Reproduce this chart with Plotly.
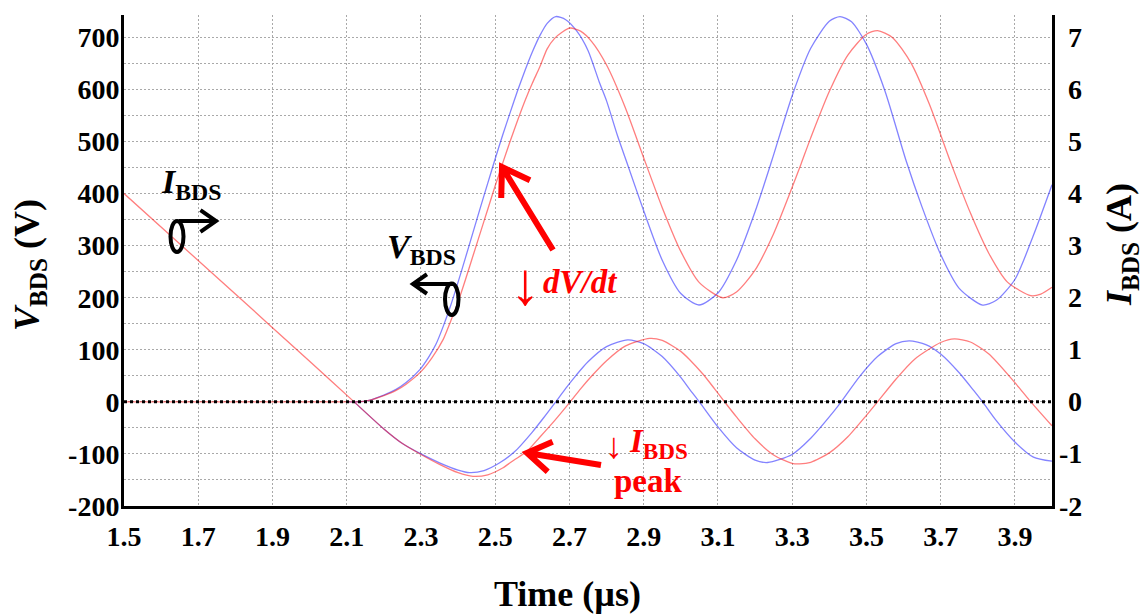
import math
import plotly.graph_objects as go

# ---------------- data ----------------
# V_BDS, blue (left axis, V)
t_vb = [2.10, 2.13, 2.16, 2.20, 2.233, 2.26, 2.297, 2.32, 2.34, 2.36, 2.38, 2.40, 2.42, 2.44,
        2.46, 2.48, 2.50, 2.52, 2.54, 2.56, 2.58, 2.60, 2.62, 2.64, 2.663, 2.69, 2.72, 2.75,
        2.78, 2.80, 2.83, 2.857, 2.90, 2.95, 3.00, 3.049, 3.10, 3.15, 3.20, 3.245, 3.30, 3.35,
        3.40, 3.429, 3.46, 3.50, 3.55, 3.607, 3.65, 3.70, 3.75, 3.813, 3.85, 3.90, 3.95, 4.00]
v_b = [0, 0, 3, 13, 24, 37, 62, 85, 110, 145, 185, 230, 277, 325,
       373, 420, 467, 512, 555, 597, 636, 672, 703, 727, 740, 734, 712, 675,
       615, 578, 510, 455, 367, 272, 208, 186, 209, 272, 365, 463, 588, 679,
       731, 740, 730, 687, 597, 463, 374, 283, 218, 186, 195, 235, 320, 417]

# V_BDS, red (left axis, V)
t_vr = [1.50, 2.10, 2.13, 2.16, 2.20, 2.233, 2.26, 2.30, 2.33, 2.36, 2.38, 2.40, 2.42, 2.44,
        2.46, 2.48, 2.50, 2.52, 2.54, 2.56, 2.58, 2.60, 2.62, 2.64, 2.66, 2.68, 2.702, 2.73,
        2.76, 2.80, 2.85, 2.905, 2.95, 3.00, 3.05, 3.113, 3.15, 3.20, 3.25, 3.30, 3.324, 3.35,
        3.40, 3.45, 3.50, 3.53, 3.57, 3.62, 3.67, 3.728, 3.78, 3.83, 3.88, 3.943, 3.97, 4.00]
v_r = [0, 0, 0, 3, 12, 22, 34, 58, 85, 120, 155, 192, 235, 280,
       325, 370, 415, 458, 500, 540, 578, 612, 643, 678, 698, 710, 718, 712,
       692, 647, 566, 459, 373, 289, 229, 200, 211, 253, 323, 412, 457, 507,
       596, 666, 706, 713, 700, 651, 571, 458, 363, 285, 230, 204, 207, 220]

# I_BDS, blue (right axis, A)
t_ib = [2.12, 2.20, 2.25, 2.30, 2.35, 2.40, 2.431, 2.47, 2.51, 2.552, 2.60, 2.63, 2.663, 2.69,
        2.718, 2.75, 2.80, 2.857, 2.90, 2.95, 3.00, 3.024, 3.05, 3.10, 3.15, 3.20, 3.234, 3.30,
        3.35, 3.40, 3.432, 3.481, 3.53, 3.58, 3.616, 3.66, 3.70, 3.75, 3.79, 3.813, 3.85, 3.90,
        3.95, 4.00]
i_b = [0.0, -0.52, -0.80, -1.00, -1.17, -1.31, -1.36, -1.32, -1.18, -0.96, -0.58, -0.31, 0.0, 0.26,
       0.51, 0.77, 1.06, 1.19, 1.12, 0.87, 0.47, 0.24, 0.0, -0.48, -0.88, -1.12, -1.165, -1.01,
       -0.70, -0.29, 0.0, 0.48, 0.87, 1.12, 1.17, 1.10, 0.92, 0.56, 0.21, 0.0, -0.36, -0.77,
       -1.06, -1.14]

# I_BDS, red (right axis, A)
t_ir = [1.50, 1.80, 2.00, 2.12, 2.20, 2.25, 2.30, 2.35, 2.40, 2.44, 2.48, 2.52, 2.55, 2.584,
        2.62, 2.66, 2.702, 2.73, 2.763, 2.80, 2.85, 2.916, 2.95, 3.00, 3.024, 3.06, 3.09, 3.118,
        3.15, 3.20, 3.25, 3.30, 3.32, 3.35, 3.40, 3.45, 3.50, 3.53, 3.58, 3.63, 3.70, 3.737,
        3.78, 3.83, 3.90, 3.943, 4.00]
i_r = [4.00, 2.07, 0.78, 0.0, -0.52, -0.80, -1.01, -1.20, -1.36, -1.43, -1.40, -1.27, -1.12, -0.96,
       -0.68, -0.36, 0.0, 0.25, 0.52, 0.79, 1.07, 1.22, 1.18, 0.97, 0.81, 0.53, 0.26, 0.0,
       -0.29, -0.71, -1.02, -1.18, -1.19, -1.16, -0.98, -0.67, -0.26, 0.0, 0.44, 0.82, 1.14, 1.21,
       1.15, 0.92, 0.37, 0.0, -0.46]

x_ticks = [1.5, 1.7, 1.9, 2.1, 2.3, 2.5, 2.7, 2.9, 3.1, 3.3, 3.5, 3.7, 3.9]
x_ticktext = ["1.5", "1.7", "1.9", "2.1", "2.3", "2.5", "2.7", "2.9", "3.1", "3.3", "3.5", "3.7", "3.9"]
yl_ticks = [-200, -100, 0, 100, 200, 300, 400, 500, 600, 700]
yl_ticktext = ["-200", "-100", "0", "100", "200", "300", "400", "500", "600", "700"]
yr_ticks = [-2, -1, 0, 1, 2, 3, 4, 5, 6, 7]
yr_ticktext = ["-2", "-1", "0", "1", "2", "3", "4", "5", "6", "7"]

# ---------------- layout helpers ----------------
W, H = 1144, 615
L, R, T, B = 124, 92, 15, 109
PW, PH = W - L - R, H - T - B
FONT = "Liberation Serif"
BLUE = "rgba(30,30,255,0.55)"
RED = "rgba(255,20,20,0.55)"
GRID = "#a9a9a9"


def px(x):
    return (x - L) / PW


def py(y):
    return (H - B - y) / PH


fig = go.Figure()
line_kw = dict(width=1.3, shape="spline", smoothing=0.7)
fig.add_trace(go.Scatter(x=t_vb, y=v_b, mode="lines", yaxis="y", line=dict(color=BLUE, **line_kw), hoverinfo="skip"))
fig.add_trace(go.Scatter(x=t_ib, y=i_b, mode="lines", yaxis="y2", line=dict(color=BLUE, **line_kw), hoverinfo="skip"))
fig.add_trace(go.Scatter(x=t_vr, y=v_r, mode="lines", yaxis="y", line=dict(color=RED, **line_kw), hoverinfo="skip"))
fig.add_trace(go.Scatter(x=t_ir, y=i_r, mode="lines", yaxis="y2", line=dict(color=RED, **line_kw), hoverinfo="skip"))

tickfont = dict(family=FONT, size=28, color="black", weight="bold")

fig.update_layout(
    width=W, height=H,
    margin=dict(l=L, r=R, t=T, b=B, pad=0),
    paper_bgcolor="white", plot_bgcolor="white",
    showlegend=False,
    xaxis=dict(range=[1.5, 4.0], tickvals=x_ticks, ticktext=x_ticktext, tickfont=tickfont,
               showgrid=True, gridcolor=GRID, gridwidth=1, griddash="2px,2px",
               zeroline=False, showline=True, linecolor="black", linewidth=3, ticks="",
               ticklabelstandoff=3),
    yaxis=dict(range=[-200, 743], tickvals=yl_ticks, ticktext=yl_ticktext, tickfont=tickfont,
               showgrid=True, gridcolor=GRID, gridwidth=1, griddash="2px,2px",
               minor=dict(dtick=50, tick0=0, showgrid=True, gridcolor=GRID, gridwidth=1, griddash="2px,2px"),
               zeroline=False, showline=True, linecolor="black", linewidth=3, ticks="",
               ticklabelstandoff=-4),
    yaxis2=dict(range=[-2, 7.43], overlaying="y", side="right", showgrid=False, zeroline=False,
                showline=True, linecolor="black", linewidth=3, ticks="", showticklabels=False),
)

ann = []
# right axis tick labels (right-aligned as in the reference)
for v, s in zip(yr_ticks, yr_ticktext):
    ann.append(dict(text=s, x=px(1084), xref="paper", y=v, yref="y2", xanchor="right",
                    yanchor="middle", showarrow=False, font=tickfont))

title_font = dict(family=FONT, size=36, color="black")
ann.append(dict(text="<b>Time (µs)</b>", x=px(567), y=py(594), xref="paper", yref="paper",
                showarrow=False, font=title_font, xanchor="center", yanchor="middle"))
ann.append(dict(text="<b><i>V</i><sub>BDS</sub> (V)</b>", x=px(29), y=py(265), xref="paper", yref="paper",
                showarrow=False, font=title_font, textangle=-90, xanchor="center", yanchor="middle"))
ann.append(dict(text="<b><i>I</i><sub>BDS</sub> (A)</b>", x=px(1121), y=py(245), xref="paper", yref="paper",
                showarrow=False, font=title_font, textangle=-90, xanchor="center", yanchor="middle"))

lab_font = dict(family=FONT, size=34, color="black")
ann.append(dict(text="<b><i>I</i><sub>BDS</sub></b>", x=px(159), y=py(184), xref="paper", yref="paper",
                showarrow=False, font=lab_font, xanchor="left", yanchor="middle"))
ann.append(dict(text="<b><i>V</i><sub>BDS</sub></b>", x=px(385), y=py(249), xref="paper", yref="paper",
                showarrow=False, font=lab_font, xanchor="left", yanchor="middle"))

red_font = dict(family=FONT, size=33, color="red")
ann.append(dict(text="↓", x=px(525), y=py(284), xref="paper", yref="paper",
                showarrow=False, font=dict(family=FONT, size=60, color="red"),
                xanchor="center", yanchor="middle"))
ann.append(dict(text="<b><i>dV/dt</i></b>", x=px(541), y=py(282), xref="paper", yref="paper",
                showarrow=False, font=red_font, xanchor="left", yanchor="middle"))
ann.append(dict(text="↓", x=px(614), y=py(446), xref="paper", yref="paper",
                showarrow=False, font=dict(family=FONT, size=36, color="red"),
                xanchor="center", yanchor="middle"))
ann.append(dict(text="<b><i>I</i><sub>BDS</sub></b>", x=px(627), y=py(443), xref="paper", yref="paper",
                showarrow=False, font=red_font, xanchor="left", yanchor="middle"))
ann.append(dict(text="<b>peak</b>", x=px(648), y=py(481), xref="paper", yref="paper",
                showarrow=False, font=red_font, xanchor="center", yanchor="middle"))
fig.update_layout(annotations=ann)


def arrow_path(tail, tip, arm_len, ang_deg):
    dx, dy = tail[0] - tip[0], tail[1] - tip[1]
    n = math.hypot(dx, dy)
    ux, uy = dx / n, dy / n
    a = math.radians(ang_deg)
    arms = []
    for s in (1, -1):
        rx = ux * math.cos(s * a) - uy * math.sin(s * a)
        ry = ux * math.sin(s * a) + uy * math.cos(s * a)
        arms.append((tip[0] + arm_len * rx, tip[1] + arm_len * ry))

    def P(p):
        return f"{px(p[0]):.5f},{py(p[1]):.5f}"
    return f"M{P(tail)} L{P(tip)} M{P(arms[0])} L{P(tip)} L{P(arms[1])}"


shapes = []
# dotted zero line
shapes.append(dict(type="line", xref="paper", yref="y", x0=0, x1=1, y0=0, y1=0,
                   line=dict(color="black", width=3, dash="dot"), layer="above"))
# loop marker for I_BDS (points to right axis)
shapes.append(dict(type="circle", xref="paper", yref="paper", x0=px(170.5), x1=px(183.5),
                   y0=py(252), y1=py(221), line=dict(color="black", width=4)))
shapes.append(dict(type="path", xref="paper", yref="paper",
                   path=arrow_path((179, 221), (216, 221), 19, 35), line=dict(color="black", width=4)))
# loop marker for V_BDS (points to left axis)
shapes.append(dict(type="circle", xref="paper", yref="paper", x0=px(445), x1=px(458.5),
                   y0=py(315), y1=py(283.5), line=dict(color="black", width=4)))
shapes.append(dict(type="path", xref="paper", yref="paper",
                   path=arrow_path((453, 284), (413, 284), 17, 35), line=dict(color="black", width=4)))
# red arrows
shapes.append(dict(type="path", xref="paper", yref="paper",
                   path=arrow_path((553, 250), (502, 167), 31, 33), line=dict(color="red", width=6)))
shapes.append(dict(type="path", xref="paper", yref="paper",
                   path=arrow_path((601, 465), (527, 453), 28, 33), line=dict(color="red", width=6)))
fig.update_layout(shapes=shapes)

fig.write_html("out.html", config={"displayModeBar": False})
